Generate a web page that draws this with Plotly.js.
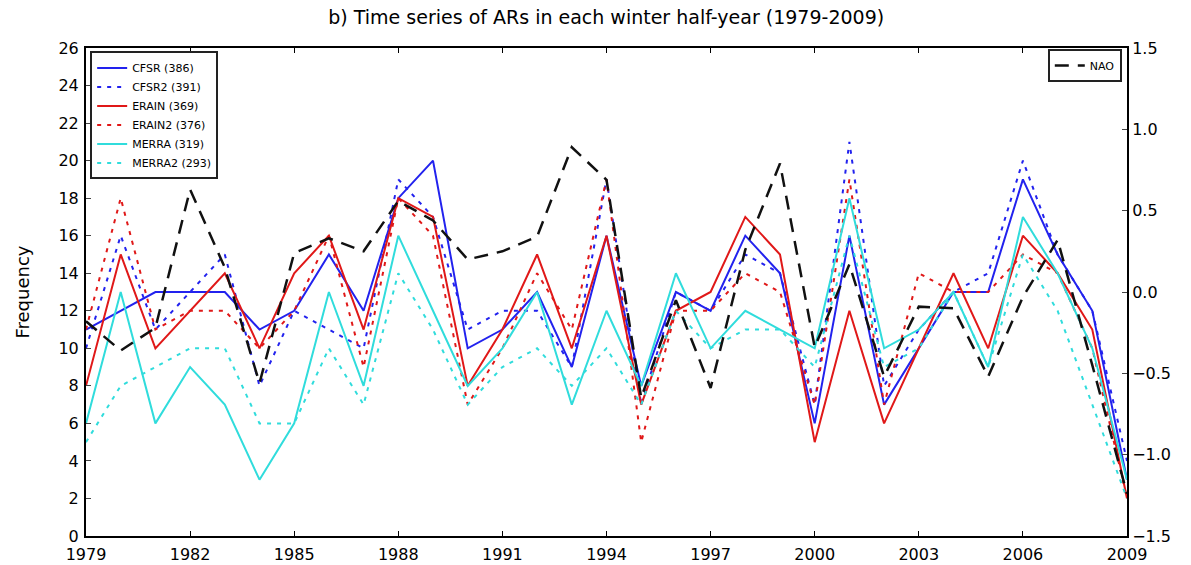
<!DOCTYPE html>
<html>
<head>
<meta charset="utf-8">
<script src="https://cdn.plot.ly/plotly-3.0.1.min.js"></script>
<style>html,body{margin:0;padding:0;background:#fff}#chart{width:1191px;height:565px}</style>
</head>
<body>
<div id="chart"></div>
<script>
const years = [1979,1980,1981,1982,1983,1984,1985,1986,1987,1988,1989,1990,1991,1992,1993,1994,1995,1996,1997,1998,1999,2000,2001,2002,2003,2004,2005,2006,2007,2008,2009];
const cfsr   = [11,12,13,13,13,11,12,15,12,18,20,10,11,13,9,16,8,13,12,16,14,6,16,7,10,13,13,19,15,12,3];
const cfsr2  = [10,16,11,13,15,8,12,11,10,19,17,11,12,12,9,19,7,13,12,15,14,7,21,8,11,13,14,20,15,12,4];
const erain  = [8,15,10,12,14,10,14,16,11,18,17,8,11,15,10,16,7,12,13,17,15,5,12,6,10,14,10,16,14,11,2];
const erain2 = [11,18,11,12,12,10,12,16,9,18,16,7,10,14,11,19,5,12,12,14,13,7,19,7,14,13,13,15,14,10,2];
const merra  = [6,13,6,9,7,3,6,13,8,16,12,8,10,13,7,12,8,14,10,12,11,10,18,10,11,13,9,17,14,10,3];
const merra2 = [5,8,9,10,10,6,6,10,7,14,11,7,9,10,8,10,7,12,10,11,11,9,16,9,10,13,9,15,12,7,2];
const nao    = [-0.18,-0.36,-0.22,0.63,0.15,-0.56,0.24,0.33,0.25,0.56,0.44,0.2,0.25,0.34,0.89,0.69,-0.65,-0.05,-0.59,0.26,0.79,-0.34,0.17,-0.52,-0.09,-0.1,-0.52,-0.03,0.32,-0.45,-1.24];

const names = ["CFSR (386)","CFSR2 (391)","ERAIN (369)","ERAIN2 (376)","MERRA (319)","MERRA2 (293)"];
const xTicks = [1979,1982,1985,1988,1991,1994,1997,2000,2003,2006,2009];
const yTicks = [0,2,4,6,8,10,12,14,16,18,20,22,24,26];
const y2Ticks = [-1.5,-1.0,-0.5,0.0,0.5,1.0,1.5];

const BLUE = "#2222ee", RED = "#e01818", CYAN = "#30dcdc";
const dotted = "4px,6px";
function tr(y, name, color, dash) {
  return {x: years, y: y, name: name, type: "scatter", mode: "lines",
    line: {color: color, width: 2, dash: dash}, legend: "legend", yaxis: "y"};
}
const data = [
  tr(cfsr, names[0], BLUE, "solid"),
  tr(cfsr2, names[1], BLUE, dotted),
  tr(erain, names[2], RED, "solid"),
  tr(erain2, names[3], RED, dotted),
  tr(merra, names[4], CYAN, "solid"),
  tr(merra2, names[5], CYAN, dotted),
  {x: years, y: nao, name: "NAO", type: "scatter", mode: "lines", yaxis: "y2",
   line: {color: "#111", width: 2.5, dash: "14px,9px"}, legend: "legend2"}
];

const F = "DejaVu Sans, sans-serif";
const layout = {
  width: 1191, height: 565,
  margin: {l: 86, r: 64, t: 48, b: 29},
  paper_bgcolor: "#fff", plot_bgcolor: "#fff",
  font: {family: F, color: "#000"},
  showlegend: true,
  title: {text: "b) Time series of ARs in each winter half-year (1979-2009)",
          font: {family: F, size: 19, color: "#000"}, x: 0.509, xanchor: "center", y: 0.97, yanchor: "middle"},
  xaxis: {range: [1979, 2009], tickvals: xTicks, ticktext: xTicks.map(String),
          showgrid: false, zeroline: false, showline: true, linecolor: "#000", linewidth: 2,
          mirror: "ticks", ticks: "inside", ticklen: 5, tickcolor: "#000", ticklabelstandoff: 3,
          tickfont: {family: F, size: 16}},
  yaxis: {range: [0, 26], tickvals: yTicks, showgrid: false, zeroline: false,
          showline: true, linecolor: "#000", linewidth: 2, ticks: "inside", ticklen: 5,
          tickfont: {family: F, size: 16}, ticklabelstandoff: 2,
          title: {text: "Frequency", font: {family: F, size: 18}, standoff: 24}},
  yaxis2: {range: [-1.5, 1.5], tickvals: y2Ticks, tickformat: ".1f", overlaying: "y", side: "right",
           showgrid: false, zeroline: false, showline: true, linecolor: "#000", linewidth: 2,
           ticks: "inside", ticklen: 5, tickfont: {family: F, size: 16}},
  legend: {x: 0.004, y: 0.993, xanchor: "left", yanchor: "top", bgcolor: "#fff",
           bordercolor: "#222", borderwidth: 2, font: {family: F, size: 11}, tracegroupgap: 0,
           itemwidth: 30},
  legend2: {x: 0.995, y: 0.998, xanchor: "right", yanchor: "top", bgcolor: "#fff",
            bordercolor: "#222", borderwidth: 2, font: {family: F, size: 11}}
};
Plotly.newPlot("chart", data, layout, {displayModeBar: false, staticPlot: true});
</script>
</body>
</html>
